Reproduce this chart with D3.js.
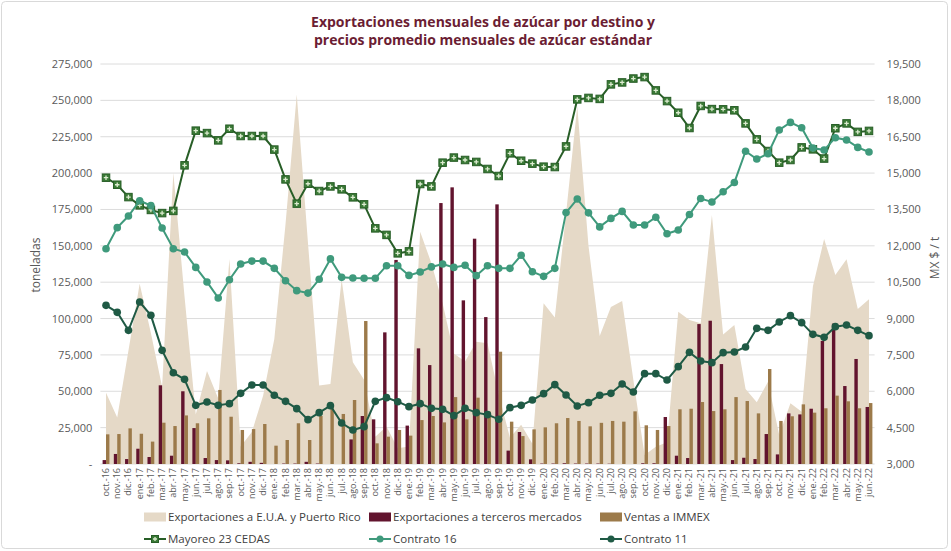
<!DOCTYPE html>
<html lang="es">
<head>
<meta charset="UTF-8">
<title>Exportaciones mensuales de azúcar</title>
<script src="https://d3js.org/d3.v7.min.js"></script>
<style>
  body { margin: 0; background: #fff; font-family: "Open Sans", Arial, sans-serif; }
</style>
</head>
<body>
<div id="chart"></div>
<script>
// month labels (x axis)
const months = [
  "oct.-16","nov.-16","dic.-16",
  "ene.-17","feb.-17","mar.-17","abr.-17","may.-17","jun.-17","jul.-17","ago.-17","sep.-17","oct.-17","nov.-17","dic.-17",
  "ene.-18","feb.-18","mar.-18","abr.-18","may.-18","jun.-18","jul.-18","ago.-18","sep.-18","oct.-18","nov.-18","dic.-18",
  "ene.-19","feb.-19","mar.-19","abr.-19","may.-19","jun.-19","jul.-19","ago.-19","sep.-19","oct.-19","nov.-19","dic.-19",
  "ene.-20","feb.-20","mar.-20","abr.-20","may.-20","jun.-20","jul.-20","ago.-20","sep.-20","oct.-20","nov.-20","dic.-20",
  "ene.-21","feb.-21","mar.-21","abr.-21","may.-21","jun.-21","jul.-21","ago.-21","sep.-21","oct.-21","nov.-21","dic.-21",
  "ene.-22","feb.-22","mar.-22","abr.-22","may.-22","jun.-22"
];

// toneladas (left axis)
const expEUA = [
  49000,32000,78000,124000,90000,53000,200000,115000,34000,64000,45000,141000,12000,22000,47000,
  86000,165000,254000,152000,54000,55000,127000,70000,58000,18800,25700,10800,
  12000,159700,138000,110500,76000,70400,84100,83000,48000,18000,27000,14000,
  110500,100700,172000,246000,150000,88000,108000,112000,57800,6200,11900,15000,
  104700,99000,96700,171200,89000,95600,51500,42500,56500,20000,41700,36000,
  122000,154700,130000,140800,106500,113200
];
const expTerceros = [
  2700,6900,3400,10500,4800,54100,5700,50000,24700,4100,2700,2500,500,1500,800,
  0,300,300,1500,300,0,0,16900,33000,30700,90500,140300,
  26400,79500,68000,179400,190200,112500,154900,101000,178500,9200,22000,3200,
  300,300,500,300,300,300,200,0,0,500,500,32300,
  5700,4100,96200,98500,68700,2700,4300,3400,20600,6600,34800,34100,
  38000,84600,96500,53600,72200,39200
];
const ventasImmex = [
  20400,20600,24500,20800,15400,28400,26100,33400,28000,31400,50900,32500,23400,24000,27500,
  12600,16500,28000,16500,33000,38300,34400,44000,98300,14200,18800,23400,
  19500,30200,33000,28600,46000,30700,45600,36000,77200,29100,19200,23800,
  25200,28000,31600,29600,25900,28300,29600,29100,36200,26600,23400,26100,
  37600,38000,42600,36400,37600,46000,43300,34800,65300,29600,32800,41000,
  35300,38300,47000,43100,38300,41900
];

// MX $ / t (right axis)
const mayoreo = [
  14810,14520,14010,13670,13480,13350,13440,15320,16750,16650,16350,16830,16530,16530,16530,
  15970,14740,13740,14560,14260,14450,14330,14000,13710,12720,12450,11690,
  11770,14550,14450,15430,15640,15540,15460,15170,14880,15815,15510,15390,
  15265,15250,16100,18040,18100,18060,18660,18740,18900,18960,18410,17970,
  17490,16860,17770,17640,17630,17590,17050,16390,15910,15430,15540,16060,
  15980,15600,16850,17050,16700,16740
];
const contrato16 = [
  11880,12750,13230,13860,13660,12735,11880,11745,11110,10510,9850,10600,11250,11370,11370,
  11070,10560,10150,10050,10620,11460,10700,10670,10660,10660,11180,11180,
  10780,10920,11130,11250,11110,11200,10770,11180,11070,11070,11610,10930,
  10740,11070,13370,13930,13360,12780,13130,13420,12860,12860,13180,12500,
  12650,13290,13950,13810,14230,14610,15900,15580,15800,16780,17090,16870,
  16035,15950,16460,16365,16060,15870
];
const contrato11 = [
  9545,9256,8513,9683,9133,7689,6767,6492,5420,5558,5420,5489,5915,6259,6259,
  5833,5585,5283,4829,5118,5406,4691,4400,4540,5585,5736,5570,
  5365,5489,5296,5255,4994,5296,5118,5035,4843,5324,5420,5640,
  5901,6273,5846,5393,5530,5833,5915,6300,5970,6726,6726,6465,
  7015,7606,7249,7180,7593,7620,7826,8596,8513,8858,9119,8830,
  8349,8225,8665,8734,8513,8294
];

const leftTicks = d3.range(0, 275001, 25000);
const rightTicks = d3.range(3000, 19501, 1500);

const width = 951, height = 551;
const plot = { left: 100.4, right: 874.6, top: 64, bottom: 464 };

const colors = {
  eua: "#e5d9c7",
  terceros: "#62142e",
  immex: "#9c7a4a",
  mayoreo: "#285e27",
  c16: "#3f9a7c",
  c11: "#1f5a45",
  grid: "#dcdcdc",
  text: "#595959",
  title: "#6b1d33"
};

const svg = d3.select("#chart").append("svg")
  .attr("width", width)
  .attr("height", height)
  .attr("viewBox", [0, 0, width, height]);

// outer frame
svg.append("rect")
  .attr("x", 1.5).attr("y", 1.5)
  .attr("width", width - 5).attr("height", height - 4)
  .attr("rx", 4)
  .attr("fill", "#fff")
  .attr("stroke", "#d9d9d9");

const x = d3.scaleBand().domain(months).range([plot.left, plot.right]);
const cx = d => x(d) + x.bandwidth() / 2;
const yL = d3.scaleLinear().domain([0, 275000]).range([plot.bottom, plot.top]);
const yR = d3.scaleLinear().domain([3000, 19500]).range([plot.bottom, plot.top]);

// title
svg.append("text")
  .attr("x", 483).attr("y", 27)
  .attr("text-anchor", "middle")
  .attr("font-size", 14).attr("font-weight", "bold")
  .attr("fill", colors.title)
  .selectAll("tspan")
  .data(["Exportaciones mensuales de azúcar por destino y", "precios promedio mensuales de azúcar estándar"])
  .join("tspan")
  .attr("x", 483)
  .attr("dy", (d, i) => i ? 18 : 0)
  .text(d => d);

// gridlines
svg.append("g")
  .selectAll("line")
  .data(leftTicks)
  .join("line")
  .attr("x1", plot.left).attr("x2", plot.right)
  .attr("y1", d => yL(d)).attr("y2", d => yL(d))
  .attr("stroke", colors.grid)
  .attr("stroke-width", 1);

// left axis
const axL = svg.append("g")
  .attr("transform", `translate(${plot.left},0)`)
  .call(d3.axisLeft(yL).tickValues(leftTicks).tickSize(0).tickPadding(8)
    .tickFormat(d => d === 0 ? "-" : d3.format(",")(d)));
axL.select(".domain").remove();
axL.selectAll("text").attr("font-size", 11).attr("fill", colors.text)
  .attr("font-family", "Open Sans, Arial, sans-serif");

// right axis
const axR = svg.append("g")
  .attr("transform", `translate(${plot.right},0)`)
  .call(d3.axisRight(yR).tickValues(rightTicks).tickSize(0).tickPadding(12)
    .tickFormat(d3.format(",")));
axR.select(".domain").remove();
axR.selectAll("text").attr("font-size", 11).attr("fill", colors.text)
  .attr("font-family", "Open Sans, Arial, sans-serif");

// axis titles
svg.append("text")
  .attr("transform", "translate(40,265) rotate(-90)")
  .attr("text-anchor", "middle")
  .attr("font-size", 12).attr("fill", colors.text)
  .text("toneladas");
svg.append("text")
  .attr("transform", "translate(939,258) rotate(-90)")
  .attr("text-anchor", "middle")
  .attr("font-size", 12).attr("fill", colors.text)
  .text("MX $ / t");

// area: Exportaciones a E.U.A. y Puerto Rico
const area = d3.area()
  .x((d, i) => cx(months[i]))
  .y0(yL(0))
  .y1(d => yL(d));
svg.append("path")
  .datum(expEUA)
  .attr("d", area)
  .attr("fill", colors.eua);

// bars
const barW = 3.4;
svg.append("g")
  .selectAll("rect")
  .data(expTerceros)
  .join("rect")
  .attr("x", (d, i) => cx(months[i]) - barW)
  .attr("y", d => yL(d))
  .attr("width", barW)
  .attr("height", d => yL(0) - yL(d))
  .attr("fill", colors.terceros);
svg.append("g")
  .selectAll("rect")
  .data(ventasImmex)
  .join("rect")
  .attr("x", (d, i) => cx(months[i]))
  .attr("y", d => yL(d))
  .attr("width", barW)
  .attr("height", d => yL(0) - yL(d))
  .attr("fill", colors.immex);

// x labels
svg.append("g")
  .selectAll("text")
  .data(months)
  .join("text")
  .attr("transform", d => `translate(${cx(d) + 3},468) rotate(-90)`)
  .attr("text-anchor", "end")
  .attr("font-size", 9)
  .attr("fill", colors.text)
  .text(d => d);

// lines
const line = d3.line().x((d, i) => cx(months[i])).y(d => yR(d));

function drawSquares(g, data, px, py, s) {
  const m = g.selectAll("g.mk")
    .data(data)
    .join("g")
    .attr("class", "mk")
    .attr("transform", (d, i) => `translate(${px(d, i)},${py(d, i)})`);
  m.append("rect")
    .attr("x", -s / 2).attr("y", -s / 2)
    .attr("width", s).attr("height", s)
    .attr("fill", "#3a7a36")
    .attr("stroke", colors.mayoreo).attr("stroke-width", 1);
  m.append("path")
    .attr("d", `M${-s / 2 + 1.5},0H${s / 2 - 1.5}M0,${-s / 2 + 1.5}V${s / 2 - 1.5}`)
    .attr("stroke", "#dcebd0").attr("stroke-width", 1.3);
}

const gMay = svg.append("g");
gMay.append("path").datum(mayoreo)
  .attr("d", line).attr("fill", "none")
  .attr("stroke", colors.mayoreo).attr("stroke-width", 2);
drawSquares(gMay, mayoreo, (d, i) => cx(months[i]), d => yR(d), 7.5);

const g16 = svg.append("g");
g16.append("path").datum(contrato16)
  .attr("d", line).attr("fill", "none")
  .attr("stroke", colors.c16).attr("stroke-width", 2);
g16.selectAll("circle").data(contrato16).join("circle")
  .attr("cx", (d, i) => cx(months[i])).attr("cy", d => yR(d))
  .attr("r", 3.8).attr("fill", colors.c16);

const g11 = svg.append("g");
g11.append("path").datum(contrato11)
  .attr("d", line).attr("fill", "none")
  .attr("stroke", colors.c11).attr("stroke-width", 2);
g11.selectAll("circle").data(contrato11).join("circle")
  .attr("cx", (d, i) => cx(months[i])).attr("cy", d => yR(d))
  .attr("r", 3.8).attr("fill", colors.c11);

// legend
const legendCols = [144, 369, 600];
const leg1 = [
  { label: "Exportaciones a E.U.A. y Puerto Rico", color: colors.eua },
  { label: "Exportaciones a terceros mercados", color: colors.terceros },
  { label: "Ventas a IMMEX", color: colors.immex }
];
const leg2 = [
  { label: "Mayoreo 23 CEDAS", color: colors.mayoreo, type: "sq" },
  { label: "Contrato 16", color: colors.c16 },
  { label: "Contrato 11", color: colors.c11 }
];

const l1 = svg.append("g").selectAll("g").data(leg1).join("g")
  .attr("transform", (d, i) => `translate(${legendCols[i]},517)`);
l1.append("rect").attr("x", 0).attr("y", -4.5).attr("width", 22).attr("height", 9)
  .attr("fill", d => d.color);
l1.append("text").attr("x", 24).attr("y", 4).attr("font-size", 11.5)
  .attr("fill", "#404040").text(d => d.label);

const l2 = svg.append("g").selectAll("g").data(leg2).join("g")
  .attr("transform", (d, i) => `translate(${legendCols[i]},539)`);
l2.append("line").attr("x1", 0).attr("x2", 22).attr("y1", 0).attr("y2", 0)
  .attr("stroke", d => d.color).attr("stroke-width", 2);
l2.filter(d => d.type !== "sq").append("circle")
  .attr("cx", 11).attr("cy", 0).attr("r", 3.5).attr("fill", d => d.color);
drawSquares(l2.filter(d => d.type === "sq"), [0], () => 11, () => 0, 7);
l2.append("text").attr("x", 24).attr("y", 4).attr("font-size", 11.5)
  .attr("fill", "#404040").text(d => d.label);
</script>
</body>
</html>
